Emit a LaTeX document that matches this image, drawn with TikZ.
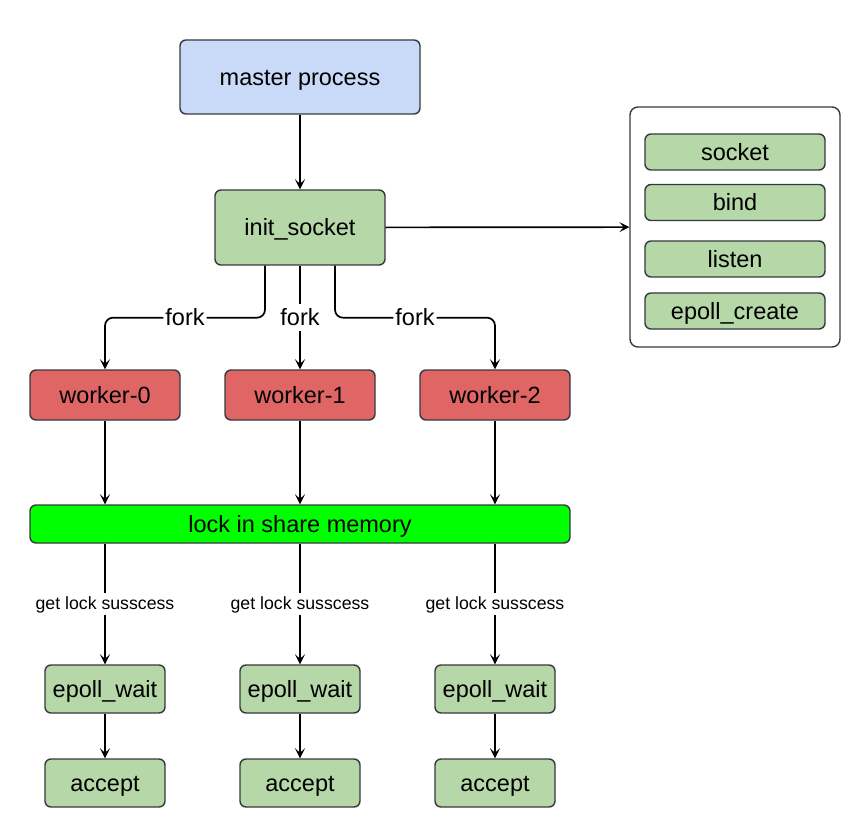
\documentclass[tikz,border=0pt]{standalone}
\usepackage{fontspec}
\setmainfont{Liberation Sans}
\usetikzlibrary{arrows.meta}
\definecolor{masterblue}{HTML}{C9DAF8}
\definecolor{stepgreen}{HTML}{B6D7A8}
\definecolor{workerred}{HTML}{E06666}
\definecolor{lockgreen}{HTML}{00FF00}
\definecolor{edgegray}{HTML}{36393D}
\tikzset{
  box/.style={draw=edgegray,line width=1.4pt,rounded corners=6pt,inner sep=0pt,
    text height=20pt,text depth=3.8pt,font=\fontsize{23.5}{28}\selectfont},
  arr/.style={-{Stealth[length=10pt,width=10pt,inset=4.5pt]},line width=1.7pt},
  lbl/.style={fill=white,inner sep=2pt,text height=20pt,text depth=3.8pt,
    font=\fontsize{23.5}{28}\selectfont},
  small/.style={fill=white,inner sep=2pt,text height=14pt,text depth=3.8pt,
    font=\fontsize{17.7}{21}\selectfont}
}
\begin{document}
\begin{tikzpicture}[x=1pt,y=-1pt]
    \useasboundingbox (0,0) rectangle (860,829);
    \node [box,fill=masterblue,minimum width=240,minimum height=74] (master) at (300,77) {master process};
    \node [box,fill=stepgreen,minimum width=170,minimum height=75] (init) at (300,227.5) {init\_socket};
    \node [box,fill=white,rounded corners=8pt,minimum width=210,minimum height=240] (ops) at (735,227) {};
    \node [box,fill=stepgreen,minimum width=180,minimum height=36] (sock) at (735,152) {socket};
    \node [box,fill=stepgreen,minimum width=180,minimum height=36] (bind) at (735,202.5) {bind};
    \node [box,fill=stepgreen,minimum width=180,minimum height=36] (listen) at (735,259) {listen};
    \node [box,fill=stepgreen,minimum width=180,minimum height=36] (create) at (735,311) {epoll\_create};
    \foreach \i/\x in {0/105,1/300,2/495}{
      \node [box,fill=workerred,minimum width=150,minimum height=50] (w\i) at (\x,395) {worker-\i};
      \node [box,fill=stepgreen,minimum width=120,minimum height=48] (ew\i) at (\x,689) {epoll\_wait};
      \node [box,fill=stepgreen,minimum width=120,minimum height=48] (acc\i) at (\x,783) {accept};
    }
    \node [box,fill=lockgreen,minimum width=540,minimum height=38] (lock) at (300,524) {lock in share memory};
    \draw [arr] (master) -- (init);
    \draw [arr] (init) -- (ops);
    \draw [arr,rounded corners=8pt] ([xshift=-35pt]init.south) -- ++(0,52) -| node [lbl,pos=0.25] {fork} (w0);
    \draw [arr] (init) -- node [lbl] {fork} (w1);
    \draw [arr,rounded corners=8pt] ([xshift=35pt]init.south) -- ++(0,52) -| node [lbl,pos=0.25] {fork} (w2);
    \foreach \i in {0,1,2}{
      \draw [arr] (w\i) -- (w\i |- lock.north);
      \draw [arr] (lock.south -| w\i) -- node [small] {get lock susscess} (ew\i);
      \draw [arr] (ew\i) -- (acc\i);
    }
  \end{tikzpicture}
\end{document}
